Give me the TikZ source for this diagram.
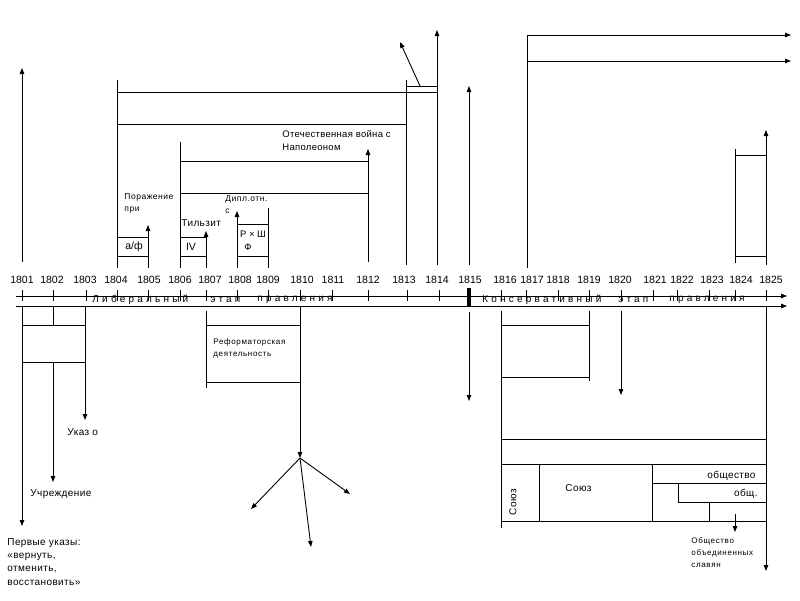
\documentclass[tikz,border=0pt]{standalone}
\usepackage{fontspec}
\setmainfont{Liberation Sans}
\usetikzlibrary{arrows.meta}
\begin{document}
\begin{tikzpicture}[x=1pt,y=-1pt, line width=0.9pt,
  arr/.style={-{Triangle[length=6pt,width=4.5pt]}},
  yr/.style={font=\fontsize{10.5}{12}\selectfont, inner sep=0},
  lbl/.style={font=\fontsize{10}{13}\selectfont\addfontfeature{LetterSpace=4}, inner sep=0, anchor=west, align=left},
  sm/.style={font=\fontsize{8.5}{12}\selectfont\addfontfeature{LetterSpace=6}, inner sep=0, anchor=west, align=left},
  stage/.style={font=\fontsize{10}{12}\selectfont\addfontfeature{LetterSpace=32}, inner sep=0, anchor=west}]
\useasboundingbox (0,0) rectangle (800,600);

% ---- year labels
\foreach \y/\x in {1801/22,1802/52,1803/85,1804/116,1805/149,1806/180,1807/210,1808/240,1809/268,1810/302,1811/333,1812/368,1813/404,1814/437,1815/470,1816/505,1817/532,1818/558,1819/589,1820/620,1821/655,1822/682,1823/712,1824/741,1825/771}
  \node[yr] (y\y) at (\x,280) {\y};

% ---- time axis
\draw[arr] (16,296) -- (787,296);
\draw[arr] (16,306) -- (787,306);
\foreach \x in {22,53,86,117,148,180,206,237,268,300,332,368,407,439,501,526,558,589,621,653,677,709,735,766}
  \draw (\x,290) -- (\x,301);
\draw[line width=3.5pt] (469,288) -- (469,307);
\node[stage] (lib1) at (92,300) {Либеральный};
\node[stage] (lib2) at (210,300) {этап};
\node[stage] (lib3) at (257,300) {правления};
\node[stage] (kon1) at (482,300) {Консервативный};
\node[stage] (kon2) at (618,300) {этап};
\node[stage] (kon3) at (669,300) {правления};

% ---- upper part
\draw[arr] (22,262) -- (22,68);
\draw (117,80) -- (117,268);
\draw (117,92) -- (437,92);
\draw (117,124) -- (406,124);
\draw (406,80) -- (406,265);
\draw[arr] (437,265) -- (437,30);
\draw (406,86) -- (437,86);
\draw[arr] (420,86) -- (400,42);

\draw (117,237) -- (148,237);
\draw (117,256) -- (148,256);
\draw[arr] (148,268) -- (148,225);
\node[yr] (af) at (134,247) {а/ф};
\node[sm] (por) at (124,203) {Поражение\\при};

\draw (180,142) -- (180,268);
\draw (180,161) -- (368,161);
\draw (180,193) -- (368,193);
\draw[arr] (368,262) -- (368,149);
\draw (180,237) -- (206,237);
\draw (180,256) -- (206,256);
\draw[arr] (206,268) -- (206,231);
\node[yr] (iv) at (191,247) {IV};
\node[lbl] (til) at (181,223) {Тильзит};

\draw[arr] (237,268) -- (237,211);
\draw (268,208) -- (268,268);
\draw (237,224) -- (268,224);
\draw (237,256) -- (268,256);
\node[yr,font=\fontsize{9.5}{12}\selectfont] (rsh) at (253,234) {Р × Ш};
\node[yr,font=\fontsize{9.5}{12}\selectfont] (f) at (248,247) {Ф};
\node[sm] (dipl) at (225,205) {Дипл.отн.\\с};

\node[lbl, font=\fontsize{9.5}{13}\selectfont\addfontfeature{LetterSpace=3}] (otech) at (282,141) {Отечественная война с\\Наполеоном};

\draw[arr] (469,265) -- (469,86);
\draw[arr] (469,312) -- (469,401);

\draw (527,35) -- (527,268);
\draw[arr] (527,35) -- (791,35);
\draw[arr] (527,61) -- (791,61);

\draw (735,149) -- (735,263);
\draw (735,155) -- (766,155);
\draw (735,256) -- (766,256);
\draw[arr] (766,265) -- (766,130);

% ---- lower left
\draw[arr] (22,306) -- (22,526);
\draw (22,325) -- (85,325);
\draw (22,362) -- (85,362);
\draw (53,306) -- (53,325);
\draw[arr] (53,362) -- (53,482);
\draw[arr] (85,306) -- (85,420);
\node[lbl] (ukaz) at (67,432) {Указ о};
\node[lbl] (uchr) at (30,494) {Учреждение};
\node[lbl, anchor=north west, font=\fontsize{10}{13.3}\selectfont\addfontfeature{LetterSpace=4}] (perv) at (7,538) {Первые указы:\\«вернуть,\\отменить,\\восстановить»};

% ---- reform
\coordinate (star) at (300,458);
\draw (206,311) -- (206,388);
\draw (206,325) -- (300,325);
\draw (206,382) -- (300,382);
\draw[arr] (300,306) -- (star);
\draw[arr] (star) -- (251,509);
\draw[arr] (star) -- (311,547);
\draw[arr] (star) -- (350,494);
\node[sm, font=\fontsize{8}{12}\selectfont\addfontfeature{LetterSpace=8}] (ref) at (213,348) {Реформаторская\\деятельность};

% ---- lower right
\draw (501,311) -- (501,528);
\draw (501,325) -- (589,325);
\draw (501,377) -- (589,377);
\draw (589,311) -- (589,381);
\draw[arr] (621,311) -- (621,395);
\draw (501,439) -- (766,439);
\draw (501,464) -- (766,464);
\draw (501,521) -- (766,521);
\draw[arr] (766,306) -- (766,571);
\draw (539,464) -- (539,521);
\draw (652,464) -- (652,521);
\draw (652,483) -- (766,483);
\draw (678,483) -- (678,502);
\draw (678,502) -- (766,502);
\draw (709,502) -- (709,521);
\draw[arr] (735,514) -- (735,532);
\node[lbl, rotate=90, anchor=center] (soyuz1) at (513,502) {Союз};
\node[lbl] (soyuz2) at (565,488) {Союз};
\node[lbl, anchor=east] (obsh) at (756,476) {общество};
\node[lbl, anchor=east] (obsh2) at (758,494) {общ.};
\node[sm, anchor=north west, font=\fontsize{8}{12}\selectfont\addfontfeature{LetterSpace=8}] (slav) at (691,537) {Общество\\объединенных\\славян};
\end{tikzpicture}
\end{document}
